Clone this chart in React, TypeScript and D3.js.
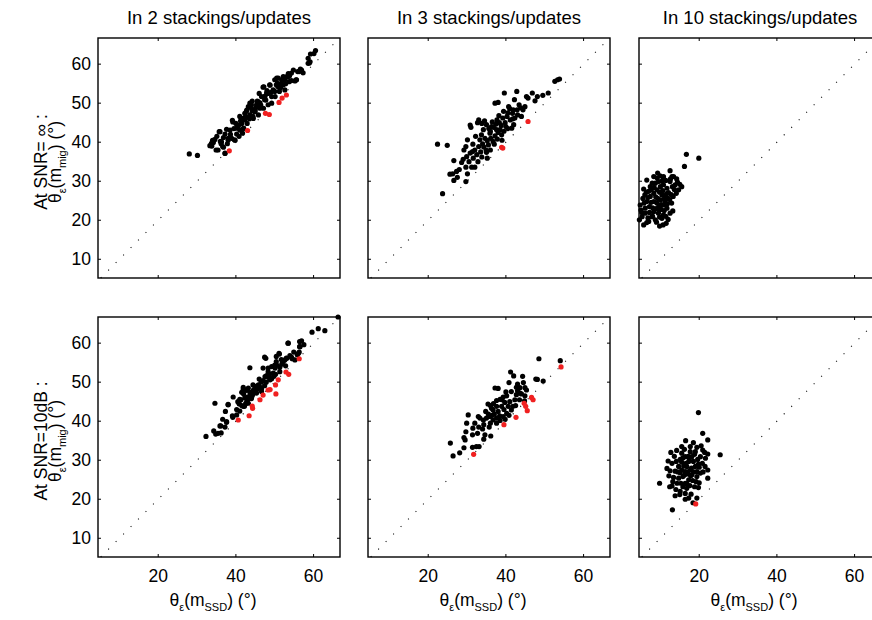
import { useEffect, useRef } from 'react';
import * as d3 from 'd3';

type Pt = [number, number];

const titles = ['In 2 stackings/updates', 'In 3 stackings/updates', 'In 10 stackings/updates'];
const rowLabels = ['At SNR= \u221E :', 'At SNR=10dB :'];
const xTicks = [20, 40, 60];
const yTicks = [10, 20, 30, 40, 50, 60];
const xDomain: [number, number] = [4.5, 66.8];
const yDomain: [number, number] = [5.2, 66.7];

// SNR = inf, 2 stackings
const p1Black: Pt[] = [
  [28.0, 37.0], [30.1, 36.6], [33.8, 39.0], [34.2, 39.9], [34.6, 40.7], [34.9, 38.0], [35.9, 42.7], [36.3, 40.1],
  [36.8, 41.2], [36.8, 38.7], [37.2, 37.1], [37.6, 43.3], [38.0, 40.5], [38.5, 43.1], [38.9, 41.0], [39.2, 45.2],
  [39.8, 40.5], [40.2, 42.1], [40.6, 44.1], [41.0, 43.1], [41.5, 44.8], [41.9, 43.5], [41.9, 46.1], [42.3, 47.4],
  [42.8, 48.2], [42.9, 44.8], [43.2, 49.1], [43.6, 47.0], [44.0, 49.5], [44.5, 46.1], [44.9, 47.8], [45.3, 49.1],
  [45.8, 47.0], [46.2, 50.1], [46.6, 51.7], [47.1, 48.7], [47.2, 54.2], [47.7, 50.8], [48.3, 52.5], [48.8, 54.6],
  [49.2, 50.0], [49.6, 53.4], [50.1, 51.7], [50.5, 56.4], [50.7, 55.1], [51.2, 53.0], [51.8, 56.0], [52.2, 54.7],
  [52.6, 53.4], [53.1, 56.8], [53.5, 57.6], [53.7, 55.5], [54.3, 55.8], [54.8, 58.5], [55.5, 56.0], [55.9, 58.1],
  [56.9, 58.5], [57.3, 57.8], [58.6, 60.2], [59.1, 60.6], [60.5, 63.5], [60.1, 62.7], [59.2, 62.6], [58.6, 61.5],
  [58.9, 60.3], [33.3, 39.1], [33.7, 39.7], [35.1, 41.5], [35.7, 42.7], [36.0, 40.2], [36.6, 38.9], [37.2, 42.1],
  [38.0, 41.0], [39.1, 45.6], [39.6, 40.6], [40.2, 43.6], [40.6, 44.4], [41.0, 46.6], [41.7, 42.3], [42.0, 43.6],
  [42.3, 45.7], [42.7, 47.9], [43.6, 50.0], [44.0, 48.7], [44.4, 46.6], [44.9, 47.9], [45.3, 49.6], [45.7, 50.4],
  [46.2, 48.7], [47.0, 54.1], [47.4, 50.9], [47.9, 52.6], [48.3, 49.6], [48.7, 54.7], [49.2, 51.7], [50.0, 56.0],
  [50.4, 54.7], [50.9, 56.4], [51.3, 53.8], [51.7, 55.1], [52.2, 56.8], [52.6, 56.0], [53.4, 56.8], [54.3, 57.7],
  [55.2, 55.7], [55.6, 56.0], [56.3, 58.1], [56.6, 58.7], [35.4, 38.0], [37.2, 37.2],
  [39.5, 43.5], [40.0, 44.8], [41.2, 45.5], [42.5, 46.6], [43.5, 46.0], [44.2, 48.0], [45.0, 48.5], [45.5, 50.5],
  [46.4, 49.5], [47.5, 51.8], [48.0, 53.2], [49.0, 52.8], [50.0, 53.0], [50.8, 54.3], [51.5, 54.0], [52.8, 55.0],
  [53.8, 57.0], [36.2, 39.6], [37.8, 39.6], [38.6, 42.0], [40.8, 41.5], [34.0, 40.5], [44.2, 50.5], [46.0, 52.5],
];
const p1Red: Pt[] = [
  [38.3, 37.8], [43.0, 43.0], [47.6, 47.4], [48.6, 47.1], [51.1, 50.2], [51.9, 51.3], [53.0, 52.1],
];

// SNR = inf, 3 stackings
const p2Black: Pt[] = [
  [22.4, 39.5], [24.9, 39.2], [23.7, 26.8], [26.6, 30.2], [25.6, 31.8], [26.3, 31.9], [27.3, 32.5], [26.6, 35.3],
  [28.6, 34.8], [29.7, 29.9], [30.1, 31.9], [29.7, 33.6], [31.2, 33.6], [32.0, 33.6], [29.9, 36.3], [30.1, 40.6],
  [30.8, 44.4], [31.0, 43.8], [33.0, 45.7], [32.7, 45.0], [29.0, 35.6], [29.2, 38.0], [29.7, 38.9], [30.8, 37.2],
  [31.6, 35.9], [32.0, 38.0], [32.5, 36.8], [33.0, 38.9], [33.3, 40.6], [33.7, 41.9], [34.2, 43.2], [34.6, 41.0],
  [34.9, 38.0], [35.2, 35.9], [35.5, 39.3], [35.9, 42.3], [36.3, 44.0], [36.7, 40.2], [37.2, 41.6], [37.6, 43.2],
  [37.7, 45.7], [37.2, 50.0], [38.0, 50.2], [38.3, 45.0], [38.5, 43.2], [38.9, 41.9], [39.2, 46.2], [39.4, 47.9],
  [39.6, 52.6], [39.8, 45.0], [40.3, 46.6], [40.7, 49.1], [41.1, 45.7], [41.5, 43.6], [41.7, 47.4], [41.9, 48.3],
  [42.2, 50.9], [42.3, 46.2], [42.8, 53.0], [42.9, 48.3], [43.4, 49.6], [44.0, 46.6], [44.4, 48.3], [44.9, 49.1],
  [45.3, 51.7], [45.7, 51.3], [46.8, 52.6], [48.1, 51.7], [50.9, 52.6], [52.6, 55.6], [53.3, 56.0], [53.8, 56.2],
  [36.0, 42.8], [36.8, 43.8], [37.0, 39.5], [36.1, 41.0], [34.0, 39.6], [33.5, 37.5], [35.0, 44.5], [40.0, 44.0],
  [33.8, 44.8], [34.5, 45.5], [35.6, 43.5], [36.5, 45.2], [37.4, 44.6], [38.2, 46.8], [38.8, 44.3], [39.5, 42.8],
  [40.5, 47.5], [41.0, 48.6], [41.8, 46.0], [43.0, 47.0], [43.8, 48.8], [34.3, 38.8], [35.2, 40.4], [33.8, 36.2],
  [32.8, 35.0], [31.4, 37.6], [30.5, 35.0], [28.0, 33.0], [27.5, 31.0], [37.8, 40.8], [38.0, 42.5], [39.0, 40.5],
  [40.5, 43.5], [42.0, 44.5], [36.0, 38.0], [35.0, 37.4], [32.2, 41.5], [31.5, 39.5], [47.5, 50.6], [49.5, 52.0],
];
const p2Red: Pt[] = [[38.9, 38.7], [39.2, 38.5], [45.7, 45.3]];

// SNR = inf, 10 stackings
const p3Black: Pt[] = [
  [16.7, 36.9], [19.9, 35.9], [16.2, 33.8], [12.5, 32.7], [9.3, 32.1], [8.3, 31.2], [6.5, 30.3], [10.7, 31.0],
  [13.0, 31.2], [5.7, 28.0], [5.5, 25.6], [4.8, 23.9], [5.0, 22.6], [4.6, 20.1], [5.7, 18.8], [6.5, 19.4],
  [7.8, 20.9], [8.7, 20.1], [9.8, 18.5], [10.7, 18.8], [11.5, 19.2], [10.4, 20.5], [9.5, 21.8], [12.5, 21.8],
  [11.7, 23.1], [10.8, 23.9], [7.2, 23.5], [6.5, 24.8], [7.4, 26.1], [8.3, 26.9], [7.0, 27.4], [9.1, 27.8],
  [10.0, 28.6], [8.7, 29.5], [7.9, 29.5], [9.5, 29.9], [10.8, 29.1], [11.7, 28.2], [12.5, 29.9], [13.4, 31.2],
  [13.8, 29.1], [14.7, 27.8], [15.5, 28.6], [14.1, 26.9], [13.3, 26.1], [12.0, 25.6], [11.2, 26.1], [10.4, 26.5],
  [10.0, 25.2], [9.1, 24.4], [8.3, 24.8], [8.3, 22.2], [6.1, 21.8], [9.3, 25.6], [11.2, 24.8], [12.9, 24.4],
  [12.1, 27.1], [10.8, 31.2], [7.4, 28.6], [6.1, 23.1], [5.3, 20.9], [7.0, 19.7], [9.8, 22.6], [10.8, 21.4],
  [6.0, 26.5], [6.8, 25.8], [7.6, 24.6], [8.0, 23.2], [8.9, 23.0], [9.6, 23.5], [10.2, 22.8], [11.0, 22.5],
  [11.8, 24.2], [12.4, 25.3], [13.6, 27.9], [13.1, 28.6], [12.6, 30.6], [11.4, 30.2], [10.4, 30.0], [9.2, 30.8],
  [8.4, 28.4], [9.8, 27.2], [10.6, 27.6], [11.6, 26.8], [12.8, 26.6], [14.4, 29.8], [15.0, 29.2], [8.0, 21.0],
  [9.0, 19.5], [7.2, 22.0], [5.8, 24.4], [6.4, 27.2], [7.7, 27.9], [10.2, 24.0], [11.0, 25.5], [8.8, 26.0],
  [9.8, 20.8], [11.4, 21.0], [12.0, 20.2], [13.2, 22.4], [6.8, 20.6], [5.2, 22.0], [14.2, 30.6], [9.9, 31.4],
];
const p3Red: Pt[] = [];

// SNR = 10dB, 2 stackings
const p4Black: Pt[] = [
  [66.3, 66.7], [61.2, 63.7], [62.9, 63.2], [59.6, 62.8], [56.4, 60.4], [57.5, 59.6], [56.4, 59.1], [53.4, 60.0],
  [56.3, 57.7], [51.1, 57.4], [53.0, 56.2], [52.6, 55.7], [52.2, 55.3], [50.4, 55.3], [47.4, 56.4], [50.0, 54.4],
  [49.2, 54.0], [48.3, 53.6], [51.3, 53.8], [43.6, 53.7], [48.7, 52.1], [47.9, 51.7], [49.2, 50.9], [47.0, 50.4],
  [45.7, 49.1], [44.4, 49.3], [45.1, 48.3], [46.6, 48.3], [47.4, 49.1], [41.9, 48.7], [42.7, 47.9], [43.6, 47.4],
  [44.4, 47.0], [41.5, 47.4], [41.3, 45.5], [42.3, 46.0], [43.2, 44.6], [41.9, 43.8], [40.8, 44.6], [39.3, 46.2],
  [40.2, 43.0], [41.0, 42.6], [39.1, 41.4], [38.0, 44.3], [37.3, 42.5], [36.6, 40.5], [37.6, 39.7], [35.9, 38.8],
  [37.2, 38.5], [34.6, 44.6], [34.3, 37.5], [34.8, 36.7], [35.4, 36.9], [36.2, 37.0], [32.3, 36.1], [45.3, 47.2],
  [46.6, 47.6], [47.0, 53.6], [50.4, 56.6], [51.7, 55.8], [53.9, 56.8], [54.9, 57.7], [54.3, 56.4], [40.9, 44.4],
  [41.0, 45.6], [42.2, 43.8], [42.8, 45.0], [43.6, 46.5], [44.0, 45.8], [44.5, 48.0], [44.9, 48.9], [45.8, 49.3],
  [46.3, 48.7], [47.5, 51.4], [47.7, 56.1], [48.3, 52.7], [48.8, 50.6], [49.6, 52.3], [50.1, 53.6], [50.5, 54.4],
  [51.2, 57.2], [51.3, 52.7], [52.0, 55.5], [53.1, 56.1], [53.5, 60.0], [55.2, 55.7], [56.1, 57.4], [56.5, 59.1],
  [56.9, 60.6], [38.0, 44.2], [39.2, 41.0], [40.2, 41.6], [41.9, 48.2], [43.2, 48.5], [36.1, 38.8], [37.6, 39.9],
  [41.5, 44.0], [42.5, 44.5], [43.0, 46.2], [44.2, 46.5], [45.5, 48.2], [46.5, 50.0], [47.8, 50.0], [48.5, 51.2],
  [49.8, 51.5], [50.2, 52.0], [51.8, 54.6], [52.8, 54.2], [54.5, 56.0], [55.8, 57.0], [42.0, 47.0], [43.0, 45.5],
  [40.5, 45.0], [46.0, 50.8],
];
const p4Red: Pt[] = [
  [40.6, 40.3], [43.4, 41.4], [44.3, 43.3], [44.2, 43.9], [46.2, 45.5], [47.0, 46.7], [48.3, 48.0], [48.8, 48.1],
  [50.3, 47.0], [50.2, 49.3], [50.9, 50.6], [52.9, 52.6], [53.6, 52.0], [56.3, 56.0],
];

// SNR = 10dB, 3 stackings
const p5Black: Pt[] = [
  [48.5, 56.0], [54.0, 55.5], [41.2, 52.6], [42.0, 51.6], [44.3, 51.5], [47.7, 50.8], [48.1, 50.7], [49.6, 50.3],
  [40.8, 49.9], [44.5, 49.9], [44.9, 48.6], [42.7, 48.7], [43.6, 48.6], [37.2, 48.5], [38.0, 48.4], [41.4, 47.6],
  [40.2, 46.5], [39.3, 46.2], [38.5, 45.6], [37.6, 45.3], [35.4, 44.4], [36.3, 43.3], [36.7, 42.9], [37.6, 43.8],
  [38.9, 43.8], [39.7, 44.8], [40.6, 43.8], [41.4, 42.9], [42.3, 45.5], [42.7, 46.8], [43.6, 47.2], [44.9, 46.5],
  [45.3, 48.0], [30.3, 41.6], [32.9, 41.2], [33.3, 40.8], [34.2, 40.3], [35.0, 40.8], [35.9, 41.2], [36.7, 40.3],
  [37.6, 40.8], [38.4, 41.4], [39.3, 41.2], [40.2, 42.0], [29.9, 39.5], [32.0, 39.5], [34.3, 39.1], [35.7, 38.5],
  [37.6, 39.5], [29.7, 37.3], [31.4, 36.5], [32.7, 36.9], [34.6, 36.5], [36.1, 36.2], [34.3, 35.4], [29.2, 35.8],
  [29.5, 35.2], [29.2, 33.2], [31.4, 33.3], [32.4, 33.5], [33.1, 33.5], [25.7, 34.4], [26.4, 31.1], [28.1, 31.9],
  [36.0, 44.0], [38.0, 42.5], [39.5, 43.0], [36.5, 41.5], [34.8, 42.5], [41.0, 45.0], [43.0, 47.8],
  [37.0, 41.8], [38.5, 40.2], [39.8, 40.5], [40.8, 41.5], [41.8, 43.8], [42.5, 44.0], [43.5, 45.5], [44.0, 47.0],
  [44.8, 45.2], [35.5, 41.8], [36.0, 39.5], [34.0, 38.0], [33.0, 38.5], [31.5, 38.2], [39.0, 45.5], [40.0, 47.5],
  [43.0, 49.5], [36.8, 44.5],
];
const p5Red: Pt[] = [
  [31.7, 31.5], [39.5, 39.1], [42.6, 41.0], [44.7, 44.6], [45.1, 43.8], [45.5, 42.7], [46.6, 46.1], [47.0, 45.5],
  [54.2, 53.9],
];

// SNR = 10dB, 10 stackings
const p6Black: Pt[] = [
  [19.8, 42.2], [20.9, 36.9], [22.2, 35.2], [20.5, 33.7], [19.4, 33.3], [17.7, 33.5], [25.4, 31.4], [22.2, 31.6],
  [21.6, 30.5], [20.8, 29.2], [22.2, 27.5], [22.2, 25.4], [20.3, 26.7], [19.4, 25.8], [19.2, 24.5], [18.8, 23.2],
  [19.4, 20.3], [17.3, 20.3], [16.4, 20.0], [18.4, 19.1], [13.1, 17.3], [13.8, 20.9], [13.0, 23.4], [12.4, 23.2],
  [9.8, 24.1], [11.7, 27.9], [12.5, 27.3], [13.0, 29.2], [12.7, 32.0], [13.6, 31.0], [14.1, 29.7], [14.7, 28.4],
  [15.1, 26.8], [14.7, 25.4], [15.3, 24.1], [15.1, 22.0], [16.4, 21.5], [16.8, 22.8], [15.8, 25.8], [16.4, 27.1],
  [16.8, 28.4], [17.7, 27.5], [17.3, 29.7], [16.4, 30.9], [15.5, 31.8], [15.1, 30.2], [18.1, 30.9], [19.0, 32.2],
  [18.5, 29.7], [19.0, 28.4], [19.4, 27.1], [18.1, 26.3], [17.3, 25.0], [16.4, 24.1], [14.3, 24.1], [13.4, 25.6],
  [13.8, 27.2], [15.5, 29.5], [20.3, 30.9], [20.9, 32.6], [21.5, 28.4], [17.7, 32.2], [15.5, 33.5], [17.0, 26.5],
  [18.0, 28.0], [16.0, 28.5], [17.5, 30.5], [19.8, 29.0],
  [14.5, 27.0], [15.5, 27.5], [16.2, 26.2], [17.0, 27.0], [17.8, 26.0], [18.6, 27.0], [16.6, 29.2], [15.8, 30.6],
  [17.2, 31.0], [18.8, 31.5], [19.6, 30.2], [20.0, 28.2], [18.3, 24.8], [16.8, 24.0], [15.8, 23.2], [14.0, 22.5],
  [13.2, 24.5], [12.2, 26.0], [14.2, 32.5], [16.2, 32.8], [17.6, 23.5], [19.8, 23.0], [15.0, 21.2], [17.9, 21.3],
  [12.0, 29.8], [21.0, 27.0], [21.4, 32.0], [16.5, 35.0], [18.5, 34.5], [20.0, 24.2],
];
const p6Red: Pt[] = [[19.1, 18.8]];

const panelBlack = [[p1Black, p2Black, p3Black], [p4Black, p5Black, p6Black]];
const panelRed = [[p1Red, p2Red, p3Red], [p4Red, p5Red, p6Red]];

const font = "'Liberation Sans', Arial, Helvetica, sans-serif";

export default function App() {
  const svgRef = useRef<SVGSVGElement>(null);

  useEffect(() => {
    const width = 872;
    const height = 620;
    const colX = [98, 368, 639];
    const rowY = [38, 317];
    const pw = 242;
    const ph = 240;

    d3.select(svgRef.current).selectAll('*').remove();
    const svg = d3.select(svgRef.current)
      .attr('width', width)
      .attr('height', height)
      .style('font-family', font);

    const x = d3.scaleLinear().domain(xDomain).range([0, pw]);
    const y = d3.scaleLinear().domain(yDomain).range([ph, 0]);

    rowY.forEach((ry, r) => {
      colX.forEach((cx, c) => {
        const g = svg.append('g').attr('transform', `translate(${cx},${ry})`);

        // diagonal y = x (dotted)
        const lo = Math.max(xDomain[0], yDomain[0]);
        const hi = Math.min(xDomain[1], yDomain[1]);
        g.append('line')
          .attr('x1', x(lo)).attr('y1', y(lo))
          .attr('x2', x(hi)).attr('y2', y(hi))
          .attr('stroke', '#111')
          .attr('stroke-width', 1.1)
          .attr('stroke-dasharray', '1.1 9.5');

        // ticks inward, all four sides
        const tl = 3;
        xTicks.forEach(t => {
          g.append('line').attr('x1', x(t)).attr('x2', x(t)).attr('y1', ph).attr('y2', ph - tl).attr('stroke', '#000');
          g.append('line').attr('x1', x(t)).attr('x2', x(t)).attr('y1', 0).attr('y2', tl).attr('stroke', '#000');
        });
        yTicks.forEach(t => {
          g.append('line').attr('x1', 0).attr('x2', tl).attr('y1', y(t)).attr('y2', y(t)).attr('stroke', '#000');
          g.append('line').attr('x1', pw).attr('x2', pw - tl).attr('y1', y(t)).attr('y2', y(t)).attr('stroke', '#000');
        });

        g.append('rect')
          .attr('x', 0).attr('y', 0).attr('width', pw).attr('height', ph)
          .attr('fill', 'none').attr('stroke', '#000').attr('stroke-width', 1.4);

        g.selectAll('circle.blk')
          .data(panelBlack[r][c])
          .enter()
          .append('circle')
          .attr('class', 'blk')
          .attr('cx', d => x(d[0]))
          .attr('cy', d => y(d[1]))
          .attr('r', 2.6)
          .attr('fill', '#000');

        g.selectAll('circle.red')
          .data(panelRed[r][c])
          .enter()
          .append('circle')
          .attr('class', 'red')
          .attr('cx', d => x(d[0]))
          .attr('cy', d => y(d[1]))
          .attr('r', 2.6)
          .attr('fill', '#f02020');

        if (c === 0) {
          g.selectAll('text.yt')
            .data(yTicks)
            .enter()
            .append('text')
            .attr('class', 'yt')
            .attr('x', -7)
            .attr('y', d => y(d))
            .attr('dy', '0.35em')
            .attr('text-anchor', 'end')
            .attr('font-size', 17.5)
            .text(d => d);

          // row label, rotated
          const lab = g.append('g').attr('transform', `translate(-51,${ph / 2 + 4}) rotate(-90)`);
          lab.append('text')
            .attr('text-anchor', 'middle')
            .attr('font-size', 17.5)
            .attr('xml:space', 'preserve')
            .text(rowLabels[r]);
          const l2 = lab.append('text')
            .attr('y', 14)
            .attr('text-anchor', 'middle')
            .attr('font-size', 17.5);
          l2.append('tspan').text('\u03B8');
          l2.append('tspan').attr('font-size', 11).attr('dy', 5).text('\u03B5');
          l2.append('tspan').attr('dy', -5).text('(m');
          l2.append('tspan').attr('font-size', 11).attr('dy', 5).text('mig');
          l2.append('tspan').attr('dy', -5).text(') (\u00B0)');
        }

        if (r === 0) {
          svg.append('text')
            .attr('x', cx + pw / 2)
            .attr('y', 24)
            .attr('text-anchor', 'middle')
            .attr('font-size', 18.5)
            .text(titles[c]);
        }

        if (r === 1) {
          g.selectAll('text.xt')
            .data(xTicks)
            .enter()
            .append('text')
            .attr('class', 'xt')
            .attr('x', d => x(d))
            .attr('y', ph + 25)
            .attr('text-anchor', 'middle')
            .attr('font-size', 17.5)
            .text(d => d);

          const xl = g.append('text')
            .attr('x', pw / 2 - 6)
            .attr('y', ph + 49)
            .attr('text-anchor', 'middle')
            .attr('font-size', 17.5);
          xl.append('tspan').text('\u03B8');
          xl.append('tspan').attr('font-size', 11).attr('dy', 5).text('\u03B5');
          xl.append('tspan').attr('dy', -5).text('(m');
          xl.append('tspan').attr('font-size', 11).attr('dy', 5).text('SSD');
          xl.append('tspan').attr('dy', -5).text(') (\u00B0)');
        }
      });
    });
  }, []);

  return (
    <svg
      ref={svgRef}
      style={{ position: 'absolute', left: 0, top: 0, background: '#fff' }}
    />
  );
}
